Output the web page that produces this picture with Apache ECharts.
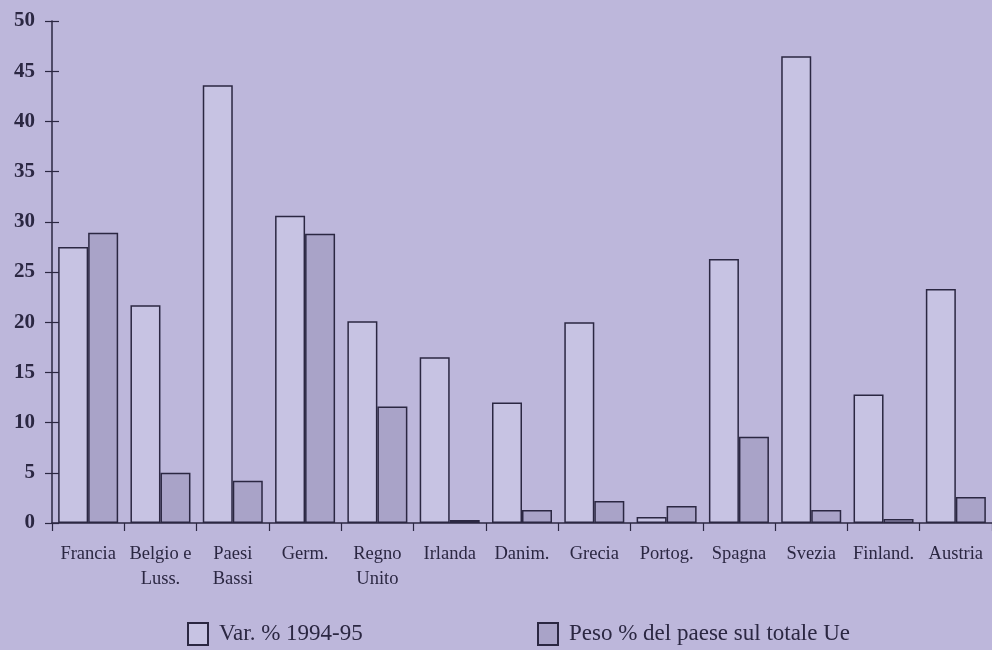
<!DOCTYPE html>
<html>
<head>
<meta charset="utf-8">
<script src="https://cdn.jsdelivr.net/npm/echarts@6/dist/echarts.min.js"></script>
<style>
  html, body { margin: 0; padding: 0; background: #bdb7db; }
  #chart_container { width: 992px; height: 650px; }
</style>
</head>
<body>
<div id="chart_container"></div>
<script>
// data
const countries = ["Francia", "Belgio e\nLuss.", "Paesi\nBassi", "Germ.", "Regno\nUnito", "Irlanda",
  "Danim.", "Grecia", "Portog.", "Spagna", "Svezia", "Finland.", "Austria"];
const var_94_95 = [27.5, 21.7, 43.6, 30.6, 20.1, 16.5, 12.0, 20.0, 0.6, 26.3, 46.5, 12.8, 23.3];
const peso_ue = [28.9, 5.0, 4.2, 28.8, 11.6, 0.3, 1.3, 2.2, 1.7, 8.6, 1.3, 0.4, 2.6];
const y_ticks = [0, 50, 5]; // min, max, step

const ink = "#2b2742";
const serif = "Liberation Serif";

document.addEventListener("DOMContentLoaded", function () {
    let chart = echarts.init(document.getElementById('chart_container'));

    let option = {
        backgroundColor: "#bdb7db",
        animation: false,
        textStyle: { fontFamily: serif, color: ink },
        legend: [
            {
                data: ["Var. % 1994-95"], left: 182, top: 617, icon: "rect",
                itemWidth: 20, itemHeight: 22, itemGap: 10,
                textStyle: { fontFamily: serif, fontSize: 23, color: ink, padding: [0, 0, 0, 6] }
            },
            {
                data: ["Peso % del paese sul totale Ue"], left: 532, top: 617, icon: "rect",
                itemWidth: 20, itemHeight: 22,
                textStyle: { fontFamily: serif, fontSize: 23, color: ink, padding: [0, 0, 0, 6] }
            }
        ],
        grid: { left: 52, right: -4, top: 21, bottom: 127 },
        xAxis: {
            type: "category",
            data: countries,
            axisLine: { lineStyle: { color: ink, width: 1.5 } },
            axisTick: { show: true, interval: 0, length: 8, lineStyle: { color: ink, width: 1.2 } },
            axisLabel: {
                interval: 0, hideOverlap: false,
                fontFamily: serif, fontSize: 18.5, color: ink, margin: 19, lineHeight: 25
            }
        },
        yAxis: [
            {
                type: "value", min: y_ticks[0], max: y_ticks[1], interval: y_ticks[2],
                axisLine: { show: true, lineStyle: { color: ink, width: 1.5 } },
                axisTick: { show: true, length: 7, lineStyle: { color: ink, width: 1.2 } },
                axisLabel: { fontFamily: serif, fontSize: 21, fontWeight: "bold", color: ink, margin: 17 },
                splitLine: { show: false }
            },
            {
                // inner half of the crossing ticks
                type: "value", position: "left", min: y_ticks[0], max: y_ticks[1], interval: y_ticks[2],
                axisLine: { show: false },
                axisTick: { show: true, inside: true, length: 7, lineStyle: { color: ink, width: 1.2 } },
                axisLabel: { show: false },
                splitLine: { show: false }
            }
        ],
        series: [
            {
                name: "Var. % 1994-95",
                type: "bar",
                data: var_94_95,
                barWidth: 30,
                barGap: "0%",
                itemStyle: { color: "#c7c3e3", borderColor: ink, borderWidth: 1.5 }
            },
            {
                name: "Peso % del paese sul totale Ue",
                type: "bar",
                data: peso_ue,
                barWidth: 30,
                barGap: "0%",
                itemStyle: { color: "#a9a3c8", borderColor: ink, borderWidth: 1.5 }
            }
        ]
    };
    chart.setOption(option);
});
</script>
</body>
</html>
